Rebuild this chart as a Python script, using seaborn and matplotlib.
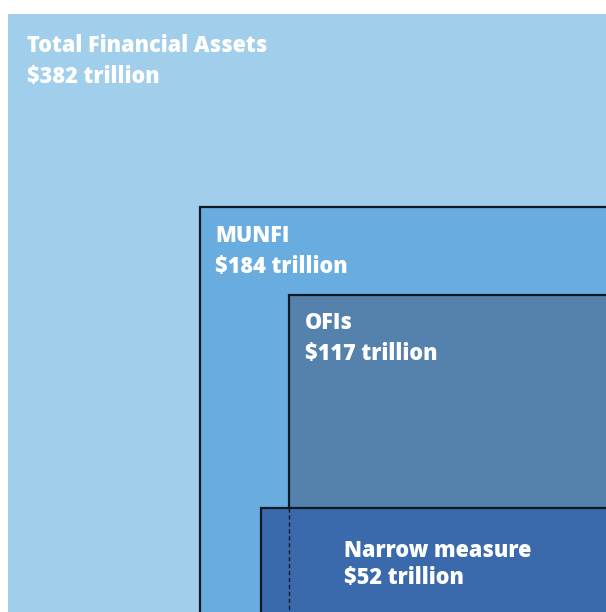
import matplotlib
matplotlib.use("Agg")
import matplotlib.pyplot as plt
import seaborn as sns
from matplotlib.patches import Rectangle

# -------------------------------
# Data
# -------------------------------
names = ["Total Financial Assets", "MUNFI", "OFIs", "Narrow measure"]
values = [382, 184, 117, 52]  # USD trillion
colors = ["#A0CEEB", "#69ACE0", "#5582AC", "#3A6AAC"]

# layout of the nested boxes in pixel space (left, top)
box_left = [8, 200, 289, 261]
box_top = [14, 207, 295, 508]
label_left = [27, 215, 305, 344]
label_base = [52, 242, 329, 557]
line_gap = [31, 31, 31, 27]

W, H = 606, 612

sns.set_theme(style="white")
plt.rcParams["font.family"] = ["Open Sans", "DejaVu Sans"]

fig = plt.figure(figsize=(W / 100, H / 100), dpi=100)
ax = fig.add_axes([0, 0, 1, 1])
ax.set_xlim(0, W)
ax.set_ylim(H, 0)
ax.axis("off")

for i, (name, val) in enumerate(zip(names, values)):
    edge = "none" if i == 0 else "#101a24"
    ax.add_patch(Rectangle((box_left[i], box_top[i]), W + 20 - box_left[i], H + 20 - box_top[i],
                           facecolor=colors[i], edgecolor=edge, linewidth=1.6, zorder=i + 1))
    ax.text(label_left[i], label_base[i], name, color="white", fontsize=15.6,
            fontweight=800, va="baseline", ha="left", zorder=10)
    ax.text(label_left[i], label_base[i] + line_gap[i], f"${val} trillion", color="white",
            fontsize=15.6, fontweight=800, va="baseline", ha="left", zorder=10)

# OFI edge continues as a dashed line inside the narrow measure box
ax.plot([box_left[2], box_left[2]], [box_top[3], H + 5], color="#101a24",
        linestyle=(0, (3, 2)), linewidth=1.0, zorder=6)

fig.savefig("out.png", dpi=100)
